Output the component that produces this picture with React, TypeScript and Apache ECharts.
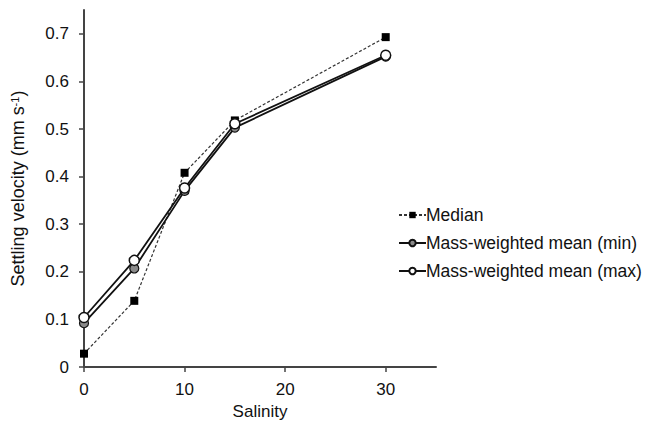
import React, { useEffect, useRef } from "react";
import * as echarts from "echarts";

const salinity = [0, 5, 10, 15, 30];
const median = [0.028, 0.139, 0.408, 0.518, 0.693];
const meanMin = [0.092, 0.207, 0.37, 0.503, 0.652];
const meanMax = [0.104, 0.224, 0.376, 0.511, 0.655];
const seriesNames = ["Median", "Mass-weighted mean (min)", "Mass-weighted mean (max)"];

const pair = (ys: number[]) => salinity.map((x, i) => [x, ys[i]]);

export default function App() {
  const ref = useRef<HTMLDivElement>(null);
  useEffect(() => {
    const chart = echarts.init(ref.current!, undefined, { renderer: "svg" });
    const font = "Liberation Sans, Arial, sans-serif";
    chart.setOption({
      animation: false,
      backgroundColor: "#fff",
      textStyle: { fontFamily: font },
      grid: { left: 84, right: 211, top: 10, bottom: 57, containLabel: false, outerBoundsMode: "none" },
      legend: {
        orient: "vertical",
        left: 393,
        top: 201,
        itemWidth: 27,
        itemHeight: 8,
        itemGap: 10,
        textStyle: { fontSize: 17.5, color: "#111", fontFamily: font, padding: [0, 0, 0, -5] },
        data: seriesNames,
      },
      xAxis: {
        type: "value",
        min: 0,
        max: 35,
        interval: 10,
        name: "Salinity",
        nameLocation: "middle",
        nameGap: 35,
        nameTextStyle: { fontSize: 17, color: "#111", lineHeight: 18 },
        axisLine: { lineStyle: { color: "#444", width: 2 } },
        axisTick: { length: 5, lineStyle: { color: "#444", width: 1.5 } },
        axisLabel: { fontSize: 17, color: "#111", margin: 14, showMaxLabel: false },
        splitLine: { show: false },
      },
      yAxis: {
        type: "value",
        min: 0,
        max: 0.75,
        interval: 0.1,
        name: "{a|Settling velocity (mm s}{s|-1}{a|)}",
        nameLocation: "middle",
        nameGap: 57,
        nameRotate: 90,
        nameTextStyle: {
          rich: {
            a: { fontSize: 18, color: "#111", fontFamily: font },
            s: { fontSize: 11, color: "#111", fontFamily: font, verticalAlign: "top", lineHeight: 18, padding: [0, 0, 8, 0] },
          },
        },
        axisLine: { lineStyle: { color: "#444", width: 2 } },
        axisTick: { length: 5, lineStyle: { color: "#444", width: 1.5 } },
        axisLabel: {
          fontSize: 17,
          color: "#111",
          margin: 15,
          showMaxLabel: false,
          formatter: (v: number) => (v === 0 ? "0" : v.toFixed(1)),
        },
        splitLine: { show: false },
      },
      series: [
        {
          name: seriesNames[0],
          type: "line",
          data: pair(median),
          symbol: "rect",
          symbolSize: 8,
          itemStyle: { color: "#000", borderColor: "#000", borderWidth: 0 },
          lineStyle: { color: "#333", width: 1.2, type: [3, 2] },
          z: 3,
        },
        {
          name: seriesNames[1],
          type: "line",
          data: pair(meanMin),
          symbol: "circle",
          symbolSize: 9,
          itemStyle: { color: "#8a8a8a", borderColor: "#111", borderWidth: 1.2 },
          lineStyle: { color: "#111", width: 1.8 },
          z: 4,
        },
        {
          name: seriesNames[2],
          type: "line",
          data: pair(meanMax),
          symbol: "circle",
          symbolSize: 10,
          itemStyle: { color: "#fff", borderColor: "#111", borderWidth: 1.5 },
          lineStyle: { color: "#111", width: 1.8 },
          z: 5,
        },
      ],
    });
    return () => chart.dispose();
  }, []);
  return <div ref={ref} style={{ width: 647, height: 424, position: "absolute", left: 0, top: 0 }} />;
}
